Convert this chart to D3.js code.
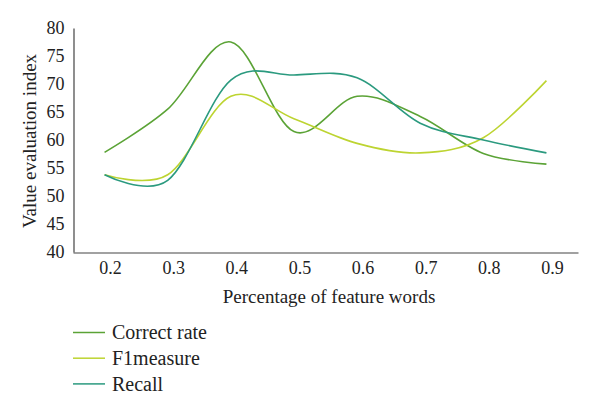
<!DOCTYPE html>
<html><head><meta charset="utf-8">
<script src="https://cdn.jsdelivr.net/npm/d3@7"></script>
<style>body{margin:0;background:#fff}svg{display:block}text{font-family:"Liberation Serif","Times New Roman",serif;fill:#222}</style>
</head><body><svg id="c" width="600" height="411"></svg>
<script>
const categories = ["0.2","0.3","0.4","0.5","0.6","0.7","0.8","0.9"];
const correctRate = [57.8, 65.5, 77.5, 61.5, 67.8, 64.2, 57.6, 55.7];
const f1measure   = [53.8, 53.8, 67.8, 63.8, 59.4, 57.7, 60.4, 70.6];
const recall      = [53.8, 52.8, 70.7, 71.6, 71.1, 63.0, 60.0, 57.7];
const yTicks = [40,45,50,55,60,65,70,75,80];
const seriesNames = ["Correct rate","F1measure","Recall"];
const colors = ["#5ba336","#bdd431","#2b9a7f"];
const serif = '"Liberation Serif","Times New Roman",serif';

const svg = d3.select("#c");
const x = d3.scaleBand().domain(categories).range([73,578]);
const y = d3.scaleLinear().domain([40,80]).range([252,28]);

// axes
const xAxis = svg.append("g").attr("transform","translate(0,252.5)")
  .call(d3.axisBottom(x).tickSize(0).tickPadding(9));
xAxis.attr("font-family",serif).attr("font-size",18);
xAxis.select(".domain").attr("stroke","#444").attr("stroke-width",1.2);
xAxis.selectAll("text").attr("dx",6).attr("fill","#222");

const yAxis = svg.append("g").attr("transform","translate(73.5,0)")
  .call(d3.axisLeft(y).tickValues(yTicks).tickSize(0).tickPadding(9));
yAxis.attr("font-family",serif).attr("font-size",18);
yAxis.select(".domain").attr("stroke","#444").attr("stroke-width",1.2);
yAxis.selectAll("text").attr("fill","#222");

svg.append("text").attr("x",329).attr("y",303).attr("text-anchor","middle").attr("font-size",19).text("Percentage of feature words");
svg.append("text").attr("transform","translate(36,141) rotate(-90)").attr("text-anchor","middle").attr("font-size",19).text("Value evaluation index");

const line = d3.line().x((d,i)=>x(categories[i])+x.bandwidth()/2).y(d=>y(d)).curve(d3.curveCardinal.tension(0));
[correctRate,f1measure,recall].forEach((s,k)=>{
  svg.append("path").attr("d",line(s)).attr("fill","none").attr("stroke",colors[k]).attr("stroke-width",1.6);
});

// legend
seriesNames.forEach((n,k)=>{
  const ly = 332.5 + k*25.7;
  svg.append("line").attr("x1",73).attr("x2",105).attr("y1",ly).attr("y2",ly).attr("stroke",colors[k]).attr("stroke-width",1.5);
  svg.append("text").attr("x",112).attr("y",ly).attr("dy","0.33em").attr("font-size",20).text(n);
});
</script></body></html>
